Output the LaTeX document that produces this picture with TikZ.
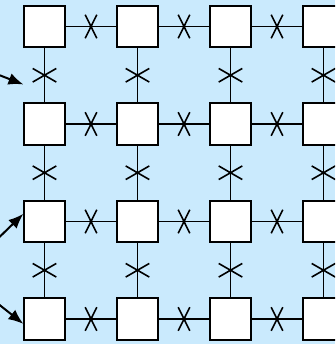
\documentclass[tikz,border=0pt]{standalone}
\usetikzlibrary{arrows.meta, positioning, shapes.misc}
\definecolor{gridsky}{HTML}{CAEAFD}

\begin{document}
\begin{tikzpicture}[
        x=1pt, y=-1pt,
        cell/.style={draw, fill=white, line width=1.8pt, inner sep=0pt,
                     minimum width=40.5pt, minimum height=41.5pt},
        link/.style={line width=1.4pt},
        hmark/.style={draw, cross out, line width=1.6pt, inner sep=0pt,
                      minimum width=10pt, minimum height=22pt},
        vmark/.style={draw, cross out, line width=1.6pt, inner sep=0pt,
                      minimum width=22pt, minimum height=12pt},
        feed/.style={-{Latex[length=15pt,width=12pt]}, line width=2pt},
      ]
        \fill[gridsky] (0,0) rectangle (335,344);
        \clip (0,0) rectangle (335,344);
        % cells, row by row
        \foreach \r/\y in {1/26.5, 2/124, 3/221.5, 4/319}
          \foreach \c/\x in {1/44.5, 2/137.5, 3/230.5, 4/323.5}
            \node[cell] (n\r\c) at (\x,\y) {};
        % horizontal links
        \foreach \r in {1,2,3,4}
          \foreach \c/\d in {1/2, 2/3, 3/4}
            \draw[link] (n\r\c) -- node[hmark] {} (n\r\d);
        % vertical links
        \foreach \r/\s in {1/2, 2/3, 3/4}
          \foreach \c in {1,2,3,4}
            \draw[link] (n\r\c) -- node[vmark] {} (n\s\c);
        % incoming arrows
        \coordinate (in1) at (-1,75);
        \coordinate (tip1) at (23.5,84.5);
        \coordinate (in2) at (-1,237.5);
        \coordinate (in3) at (-1,304.5);
        \draw[feed] (in1) -- (tip1);
        \draw[feed] (in2) -- (n31.160);
        \draw[feed] (in3) -- (n41.193);
      \end{tikzpicture}
\end{document}
